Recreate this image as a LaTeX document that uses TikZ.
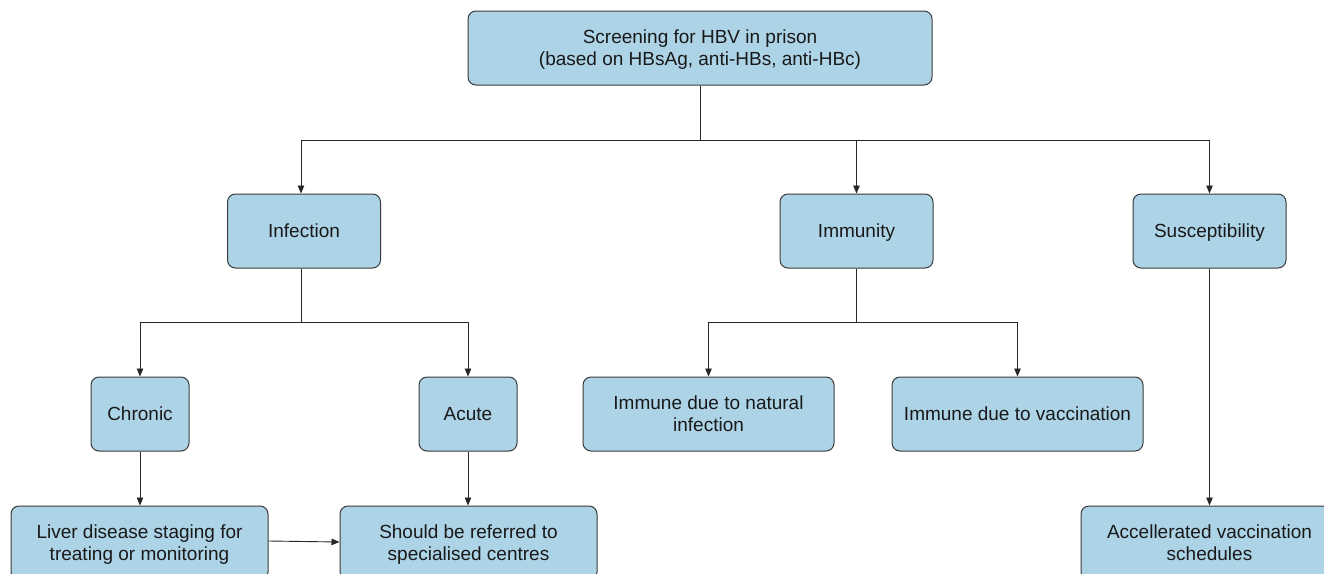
\documentclass[tikz,border=0pt]{standalone}
\usepackage{fontspec}
\setmainfont{Liberation Sans}
\usetikzlibrary{arrows.meta}
\definecolor{boxfill}{HTML}{ADD3E7}
\definecolor{boxline}{HTML}{3A3A3A}
\tikzset{
  box/.style={draw=boxline, line width=1pt, fill=boxfill, rounded corners=8pt,
    inner sep=0pt, align=center, font=\fontsize{19}{22}\selectfont, text=black!90,
    text depth=0pt},
  oneline/.style={text height=14pt, text depth=0.4pt},
  lowtext/.style={text depth=-4pt},
  conn/.style={draw=black!85, line width=0.9pt},
  arr/.style={conn, -{Triangle[length=8pt,width=6.5pt]}}
}
\begin{document}
\begin{tikzpicture}[x=1pt,y=-1pt]
\useasboundingbox (0,0) rectangle (1324,573);
\clip (0,0) rectangle (1324,573);
\fill[white] (0,0) rectangle (1324,573);
\node[box, minimum width=464pt, minimum height=74pt] (top) at (700,48) {Screening for HBV in prison\\(based on HBsAg, anti-HBs, anti-HBc)};
\node[box, oneline, minimum width=153pt, minimum height=74pt] (inf) at (304,231) {Infection};
\node[box, oneline, minimum width=153pt, minimum height=74pt] (imm) at (856.5,231) {Immunity};
\node[box, oneline, minimum width=153pt, minimum height=74pt] (sus) at (1209.5,231) {Susceptibility};
\node[box, oneline, minimum width=98pt, minimum height=74pt] (chr) at (140,414) {Chronic};
\node[box, oneline, minimum width=98pt, minimum height=74pt] (acu) at (468,414) {Acute};
\node[box, lowtext, minimum width=251pt, minimum height=74pt] (nat) at (708.5,414) {Immune due to natural\\infection};
\node[box, oneline, minimum width=251pt, minimum height=74pt] (vac) at (1017.5,414) {Immune due to vaccination};
\node[box, minimum width=257pt, minimum height=74pt] (liv) at (139.5,543) {Liver disease staging for\\treating or monitoring};
\node[box, minimum width=257pt, minimum height=74pt] (ref) at (468.5,543) {Should be referred to\\specialised centres};
\node[box, lowtext, minimum width=257pt, minimum height=74pt] (acc) at (1209.5,543) {Accellerated vaccination\\schedules};
% top branches
\coordinate (tj) at (700,140);
\draw[conn] (top.south) -- (tj);
\draw[arr] (tj) -| ([xshift=-3pt]inf.north);
\draw[arr] (tj) -| (imm.north);
\draw[arr] (tj) -| (sus.north);
% infection branches
\coordinate (ij) at (301,322);
\draw[conn] ([xshift=-3pt]inf.south) -- (ij);
\draw[arr] (ij) -| (chr.north);
\draw[arr] (ij) -| (acu.north);
% immunity branches
\coordinate (mj) at (856.5,322);
\draw[conn] (imm.south) -- (mj);
\draw[arr] (mj) -| (nat.north);
\draw[arr] (mj) -| (vac.north);
% lower arrows
\draw[arr] (sus.south) -- (acc.north);
\draw[arr] (chr.south) -- (chr.south |- liv.north);
\draw[arr] (acu.south) -- (acu.south |- ref.north);
\draw[arr] (liv.east |- 0,541) -- (ref.west |- 0,542);
\end{tikzpicture}
\end{document}
